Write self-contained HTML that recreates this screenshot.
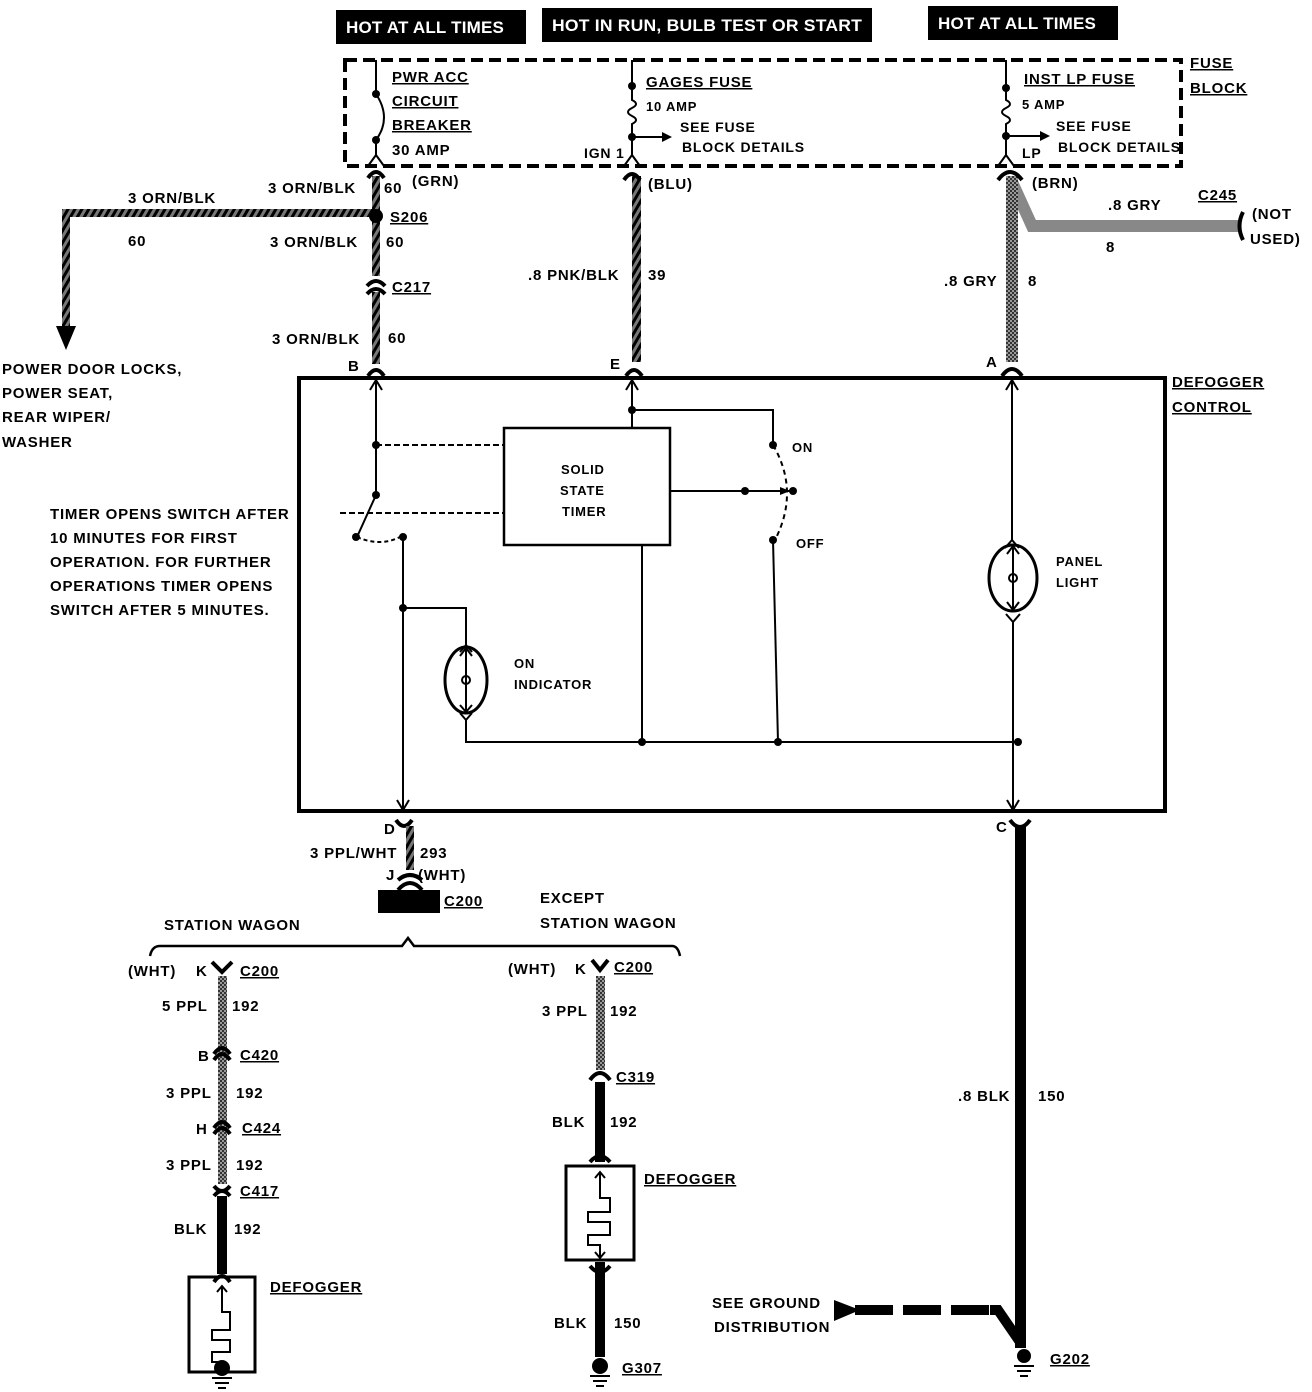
<!DOCTYPE html>
<html><head><meta charset="utf-8"><style>
html,body{margin:0;padding:0;background:#fff;}
svg{display:block;}
text{font-family:"Liberation Sans Narrow","Liberation Sans",sans-serif;font-weight:bold;font-size:15px;fill:#000;letter-spacing:0.8px;}
.w{fill:#fff;font-size:17px;letter-spacing:0.2px;}
.u{text-decoration:underline;}
</style></head><body>
<svg width="1312" height="1392" viewBox="0 0 1312 1392" xmlns="http://www.w3.org/2000/svg">
<defs>
<pattern id="hb" width="6" height="6" patternUnits="userSpaceOnUse" patternTransform="rotate(30)"><rect width="6" height="6" fill="#777"/><rect width="3" height="6" fill="#000"/></pattern>
<pattern id="gr" width="4" height="4" patternUnits="userSpaceOnUse"><rect width="4" height="4" fill="#999"/><rect width="2" height="2" fill="#333"/><rect x="2" y="2" width="2" height="2" fill="#333"/></pattern>
</defs>
<!-- header boxes -->
<rect x="336" y="10" width="190" height="34" fill="#000"/><text class="w" x="346" y="33">HOT AT ALL TIMES</text>
<rect x="542" y="8" width="330" height="34" fill="#000"/><text class="w" x="552" y="31" textLength="310" lengthAdjust="spacingAndGlyphs">HOT IN RUN,  BULB TEST OR START</text>
<rect x="928" y="6" width="190" height="34" fill="#000"/><text class="w" x="938" y="29">HOT AT ALL TIMES</text>
<!-- fuse block -->
<rect x="345" y="60" width="836" height="106" fill="none" stroke="#000" stroke-width="4" stroke-dasharray="12,6"/>
<text class="u" x="1190" y="68">FUSE</text><text class="u" x="1190" y="93">BLOCK</text>
<g fill="none" stroke="#000" stroke-width="2">
<path d="M376 60 V94 Q392 118 376 140 V155 M368 166 L376 155 L384 166"/>
<path d="M632 60 V100 q8 4 0 8 q-8 4 0 8 q8 4 0 8 V155 M624 166 L632 155 L640 166"/>
<path d="M632 137 H664"/><path d="M1006 60 V100 q8 4 0 8 q-8 4 0 8 q8 4 0 8 V155 M998 166 L1006 155 L1014 166"/>
<path d="M1006 136 H1042"/>
</g>
<circle cx="376" cy="94" r="4"/><circle cx="376" cy="140" r="4"/><circle cx="632" cy="86" r="4"/><circle cx="632" cy="137" r="4"/><circle cx="1006" cy="88" r="4"/><circle cx="1006" cy="136" r="4"/>
<path d="M662 132 L672 137 L662 142Z"/><path d="M1040 131 L1050 136 L1040 141Z"/>
<text class="u" x="392" y="82">PWR ACC</text><text class="u" x="392" y="106">CIRCUIT</text><text class="u" x="392" y="130">BREAKER</text><text x="392" y="155">30 AMP</text>
<text class="u" x="646" y="87">GAGES FUSE</text><text x="646" y="111" style="font-size:13px">10 AMP</text><text x="680" y="132" style="font-size:14px">SEE FUSE</text><text x="682" y="152" style="font-size:14px">BLOCK DETAILS</text><text x="584" y="158" style="font-size:14px">IGN 1</text>
<text class="u" x="1024" y="84">INST LP FUSE</text><text x="1022" y="109" style="font-size:13px">5 AMP</text><text x="1056" y="131" style="font-size:14px">SEE FUSE</text><text x="1058" y="152" style="font-size:14px">BLOCK DETAILS</text><text x="1022" y="158" style="font-size:14px">LP</text>
<!-- upper wires -->
<rect x="372" y="176" width="8" height="100" fill="url(#hb)"/><rect x="372" y="292" width="8" height="72" fill="url(#hb)"/>
<rect x="62" y="209" width="314" height="8" fill="url(#hb)"/><rect x="62" y="209" width="8" height="120" fill="url(#hb)"/>
<path d="M56 326 L76 326 L66 350Z"/>
<circle cx="376" cy="216" r="7"/>
<rect x="632" y="176" width="9" height="186" fill="url(#hb)"/>
<path d="M1012 182 L1032 226 H1240" fill="none" stroke="#888" stroke-width="12"/>
<rect x="1006" y="176" width="12" height="186" fill="url(#gr)"/>
<g fill="none" stroke="#000" stroke-width="4">
<path d="M368 178 Q376 166 384 178"/><path d="M624 180 Q632 168 640 180"/><path d="M998 180 Q1010 164 1022 180"/>
<path d="M367 286 Q376 276 385 286"/><path d="M367 294 Q376 284 385 294"/>
<path d="M368 376 Q376 364 384 376"/><path d="M626 376 Q634 364 642 376"/><path d="M1002 376 Q1012 362 1022 376"/>
<path d="M1243 212 Q1236 226 1243 240"/>
<path d="M396 820 Q404 832 412 820"/><path d="M1010 820 Q1020 834 1030 820"/>
</g>
<text x="128" y="203">3 ORN/BLK</text><text x="128" y="246">60</text><text x="268" y="193">3 ORN/BLK</text><text x="384" y="193">60</text><text x="412" y="186">(GRN)</text>
<text class="u" x="390" y="222">S206</text><text x="270" y="247">3 ORN/BLK</text><text x="386" y="247">60</text>
<text class="u" x="392" y="292">C217</text><text x="272" y="344">3 ORN/BLK</text><text x="388" y="343">60</text><text x="348" y="371">B</text>
<text x="648" y="189">(BLU)</text><text x="528" y="280">.8 PNK/BLK</text><text x="648" y="280">39</text><text x="610" y="369">E</text>
<text x="1032" y="188">(BRN)</text><text x="1108" y="210">.8 GRY</text><text class="u" x="1198" y="200">C245</text><text x="1106" y="252">8</text><text x="1252" y="219">(NOT</text><text x="1250" y="244">USED)</text>
<text x="944" y="286">.8 GRY</text><text x="1028" y="286">8</text><text x="986" y="367">A</text>
<text x="2" y="374">POWER DOOR LOCKS,</text><text x="2" y="398">POWER SEAT,</text><text x="2" y="422">REAR WIPER/</text><text x="2" y="447">WASHER</text>
<!-- defogger control -->
<rect x="299" y="378" width="866" height="433" fill="none" stroke="#000" stroke-width="4"/>
<text class="u" x="1172" y="387">DEFOGGER</text><text class="u" x="1172" y="412">CONTROL</text>
<rect x="504" y="428" width="166" height="117" fill="none" stroke="#000" stroke-width="2.5"/>
<text x="561" y="474" style="font-size:13px">SOLID</text><text x="560" y="495" style="font-size:13px">STATE</text><text x="562" y="516" style="font-size:13px">TIMER</text>
<g fill="none" stroke="#000" stroke-width="2">
<path d="M376 380 V495 L357 537 M370 390 L376 380 L382 390"/>
<path d="M403 537 V810 M397 800 L403 810 L409 800"/>
<path d="M403 608 H466 V645 M460 652 L466 645 L472 652"/>
<ellipse cx="466" cy="680" rx="21" ry="33" stroke-width="3"/><path d="M466 650 V712 M460 656 L466 648 L472 656 M460 705 L466 712 L472 705"/><circle cx="466" cy="680" r="4"/>
<path d="M460 713 L466 720 L472 713 M466 720 V742 H1018"/>
<path d="M632 380 V428 M626 390 L632 380 L638 390 M632 410 H773 V445"/>
<path d="M642 545 V742 M773 540 L778 742"/>
<path d="M670 491 H795"/>
<path d="M1012 380 V540 M1006 390 L1012 380 L1018 390 M1005 548 L1012 540 L1019 548"/>
<ellipse cx="1013" cy="578" rx="24" ry="33" stroke-width="3"/><path d="M1013 548 V610 M1007 554 L1013 546 L1019 554 M1007 602 L1013 610 L1019 602"/><circle cx="1013" cy="578" r="4"/>
<path d="M1006 614 L1013 622 L1020 614 M1013 622 V810 M1007 800 L1013 810 L1019 800"/>
<path d="M376 445 H504" stroke-dasharray="6,3"/><path d="M340 513 H504" stroke-dasharray="6,3"/>
<path d="M357 537 Q380 547 400 537" stroke-dasharray="4,3"/>
<path d="M773 445 Q800 491 775 540" stroke-dasharray="5,4"/>
</g>
<g>
<circle cx="376" cy="445" r="4"/><circle cx="376" cy="495" r="4"/><circle cx="356" cy="537" r="4"/><circle cx="403" cy="537" r="4"/><circle cx="403" cy="608" r="4"/>
<circle cx="632" cy="410" r="4"/><circle cx="773" cy="445" r="4"/><circle cx="745" cy="491" r="4"/><circle cx="793" cy="491" r="4"/><circle cx="773" cy="540" r="4"/>
<circle cx="642" cy="742" r="4"/><circle cx="778" cy="742" r="4"/><circle cx="1018" cy="742" r="4"/>
<path d="M780 487 L790 491 L780 495Z"/>
</g>
<text x="792" y="452" style="font-size:13px">ON</text><text x="796" y="548" style="font-size:13px">OFF</text>
<text x="1056" y="566" style="font-size:13px">PANEL</text><text x="1056" y="587" style="font-size:13px">LIGHT</text>
<text x="514" y="668" style="font-size:13px">ON</text><text x="514" y="689" style="font-size:13px">INDICATOR</text>
<text x="50" y="519">TIMER OPENS SWITCH AFTER</text><text x="50" y="543">10 MINUTES FOR FIRST</text><text x="50" y="567">OPERATION.  FOR FURTHER</text><text x="50" y="591">OPERATIONS TIMER OPENS</text><text x="50" y="615">SWITCH AFTER 5 MINUTES.</text>
<!-- below -->
<text x="384" y="834">D</text><rect x="406" y="826" width="8" height="44" fill="url(#hb)"/>
<text x="310" y="858">3 PPL/WHT</text><text x="420" y="858">293</text><text x="386" y="880">J</text><text x="418" y="880">(WHT)</text>
<path d="M398 880 Q410 870 422 880" fill="none" stroke="#000" stroke-width="4"/><path d="M398 890 Q410 876 422 890" fill="none" stroke="#000" stroke-width="4"/>
<rect x="378" y="890" width="62" height="23" fill="#000"/><text class="u" x="444" y="906">C200</text>
<path d="M150 956 Q152 946 160 946 H402 L408 938 L414 946 H672 Q678 946 680 956" fill="none" stroke="#000" stroke-width="2.5"/>
<text x="164" y="930">STATION WAGON</text><text x="540" y="903">EXCEPT</text><text x="540" y="928">STATION WAGON</text>
<!-- left column -->
<rect x="218" y="976" width="9" height="208" fill="url(#gr)"/><rect x="217" y="1196" width="10" height="78" fill="#000"/>
<g fill="none" stroke="#000" stroke-width="4">
<path d="M212 962 L222 972 L232 962"/><path d="M214 1060 Q222 1048 230 1060"/><path d="M214 1054 Q222 1042 230 1054"/>
<path d="M214 1134 Q222 1122 230 1134"/><path d="M214 1128 Q222 1116 230 1128"/><path d="M214 1186 Q222 1196 230 1186"/><path d="M214 1196 Q222 1186 230 1196"/>
<path d="M214 1282 Q222 1270 230 1282"/>
<path d="M592 960 L600 970 L608 960"/><path d="M590 1080 Q600 1066 610 1080"/><path d="M590 1162 Q600 1150 610 1162"/><path d="M590 1266 Q600 1278 610 1266"/>
</g>
<text x="128" y="976">(WHT)</text><text x="196" y="976">K</text><text class="u" x="240" y="976">C200</text>
<text x="162" y="1011">5 PPL</text><text x="232" y="1011">192</text><text x="198" y="1061">B</text><text class="u" x="240" y="1060">C420</text>
<text x="166" y="1098">3 PPL</text><text x="236" y="1098">192</text><text x="196" y="1134">H</text><text class="u" x="242" y="1133">C424</text>
<text x="166" y="1170">3 PPL</text><text x="236" y="1170">192</text><text class="u" x="240" y="1196">C417</text>
<text x="174" y="1234">BLK</text><text x="234" y="1234">192</text>
<rect x="189" y="1277" width="66" height="95" fill="none" stroke="#000" stroke-width="3"/>
<path d="M222 1286 V1312 H230 V1330 H212 V1340 H230 V1352 H212 V1362 H222 V1372 M217 1292 L222 1286 L227 1292" fill="none" stroke="#000" stroke-width="2"/>
<text class="u" x="270" y="1292">DEFOGGER</text>
<circle cx="222" cy="1368" r="8"/><path d="M212 1378 H232 M215 1383 H229 M218 1388 H226" stroke="#000" stroke-width="2"/>
<!-- right column -->
<rect x="596" y="976" width="9" height="94" fill="url(#gr)"/><rect x="595" y="1082" width="10" height="80" fill="#000"/><rect x="595" y="1262" width="10" height="95" fill="#000"/>
<text x="508" y="974">(WHT)</text><text x="575" y="974">K</text><text class="u" x="614" y="972">C200</text>
<text x="542" y="1016">3 PPL</text><text x="610" y="1016">192</text><text class="u" x="616" y="1082">C319</text>
<text x="552" y="1127">BLK</text><text x="610" y="1127">192</text>
<rect x="566" y="1166" width="68" height="94" fill="none" stroke="#000" stroke-width="3"/>
<path d="M600 1172 V1198 H610 V1212 H588 V1222 H610 V1235 H588 V1245 H600 V1258 M595 1178 L600 1172 L605 1178 M595 1252 L600 1258 L605 1252" fill="none" stroke="#000" stroke-width="2"/>
<text class="u" x="644" y="1184">DEFOGGER</text>
<text x="554" y="1328">BLK</text><text x="614" y="1328">150</text>
<circle cx="600" cy="1366" r="8"/><path d="M590 1376 H610 M593 1381 H607 M596 1386 H604" stroke="#000" stroke-width="2"/>
<text class="u" x="622" y="1373">G307</text>
<!-- right ground -->
<text x="996" y="832">C</text>
<rect x="1015" y="826" width="11" height="522" fill="#000"/>
<text x="958" y="1101">.8 BLK</text><text x="1038" y="1101">150</text>
<path d="M855 1310 H990" fill="none" stroke="#000" stroke-width="10" stroke-dasharray="38,10"/>
<path d="M990 1310 H998 L1022 1345" fill="none" stroke="#000" stroke-width="10"/>
<path d="M834 1300 L860 1310 L834 1321Z"/>
<text x="712" y="1308">SEE GROUND</text><text x="714" y="1332">DISTRIBUTION</text>
<circle cx="1024" cy="1356" r="7"/><path d="M1014 1366 H1034 M1017 1371 H1031 M1020 1376 H1028" stroke="#000" stroke-width="2"/>
<text class="u" x="1050" y="1364">G202</text>
</svg>
</body></html>
